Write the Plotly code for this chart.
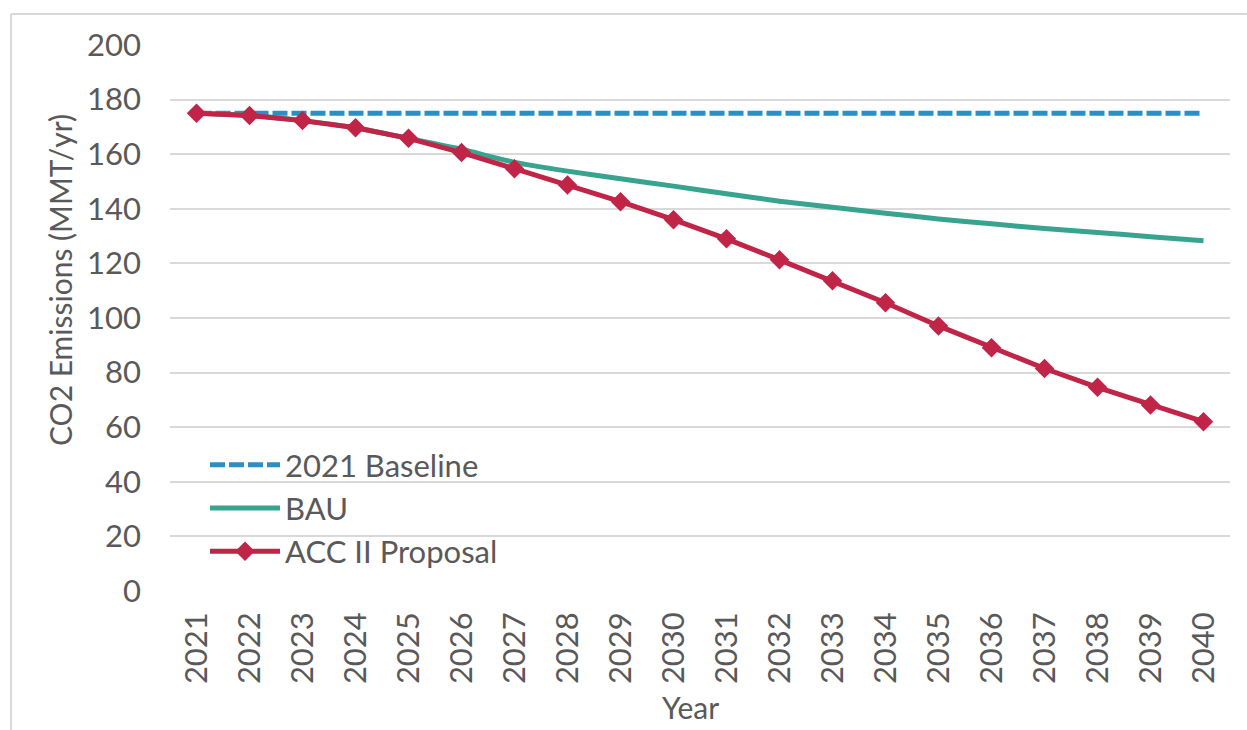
import plotly.graph_objects as go

# Emission trajectories, MMT CO2 per year
years = [str(y) for y in range(2021, 2041)]
baseline_2021 = [175] * 20
bau = [175.0, 174.2, 172.3, 169.7, 165.8, 161.8, 157.0, 153.8, 151.0, 148.3,
       145.5, 142.8, 140.6, 138.4, 136.3, 134.5, 132.8, 131.3, 129.8, 128.3]
acc_ii = [175.0, 174.2, 172.3, 169.7, 165.8, 160.6, 154.7, 148.7, 142.6, 136.0,
          129.0, 121.3, 113.6, 105.6, 97.1, 89.1, 81.5, 74.6, 68.1, 62.0]
y_ticks = list(range(0, 201, 20))

FONT = "Lato"
TEXT = "#595959"
GRID = "#D9D9D9"
FS = 31

fig = go.Figure()
fig.add_trace(go.Scatter(
    x=years, y=baseline_2021, name="2021 Baseline", mode="lines",
    legendgroup="a",
    line=dict(color="#2A8FC6", width=5, dash="15px,4px"),
))
fig.add_trace(go.Scatter(
    x=years, y=bau, name="BAU", mode="lines", legendgroup="b",
    line=dict(color="#38A38E", width=5, shape="spline", smoothing=0.6),
))
fig.add_trace(go.Scatter(
    x=years, y=acc_ii, name="ACC II Proposal", mode="lines+markers",
    legendgroup="c",
    line=dict(color="#C02547", width=5),
    marker=dict(symbol="diamond", size=15, color="#C02547"),
))

W, H = 1247, 730
L, R, T, B = 170, 17, 45, 139
pw, ph = W - L - R, H - T - B

def px(x):
    return (x - L) / pw

def py(y):
    return (H - B - y) / ph

fig.update_layout(
    width=W, height=H,
    margin=dict(l=L, r=R, t=T, b=B),
    paper_bgcolor="white", plot_bgcolor="white",
    font=dict(family=FONT, size=FS, color=TEXT),
    showlegend=True,
    legend=dict(
        x=px(205), y=py(438), xanchor="left", yanchor="top",
        bgcolor="rgba(0,0,0,0)", font=dict(size=FS, color=TEXT),
        itemwidth=70, tracegroupgap=1, traceorder="normal",
    ),
    xaxis=dict(
        type="category", range=[-0.5, 19.5], tickangle=-90, showgrid=False,
        zeroline=False, showline=False, ticks="",
        tickfont=dict(size=FS, color=TEXT), ticklabelstandoff=14,
    ),
    yaxis=dict(
        range=[0, 200], tickvals=y_ticks, showgrid=True, gridcolor=GRID,
        gridwidth=1.5, zeroline=False, showline=False, ticks="",
        tickfont=dict(size=FS, color=TEXT), ticklabelstandoff=28,
    ),
    annotations=[
        dict(text="CO2 Emissions (MMT/yr)", textangle=-90, xref="paper",
             yref="paper", x=px(60), y=py(280), xanchor="center",
             yanchor="middle", showarrow=False,
             font=dict(size=30, color=TEXT)),
        dict(text="Year", xref="paper", yref="paper", x=px(690), y=py(707),
             xanchor="center", yanchor="middle", showarrow=False,
             font=dict(size=30, color=TEXT)),
    ],
    shapes=[
        dict(type="line", xref="paper", yref="paper", x0=px(11), x1=px(1250),
             y0=py(14), y1=py(14), line=dict(color="#D9D9D9", width=2)),
        dict(type="line", xref="paper", yref="paper", x0=px(11), x1=px(11),
             y0=py(14), y1=py(735), line=dict(color="#D9D9D9", width=2)),
    ],
)

fig.write_html("out.html")
